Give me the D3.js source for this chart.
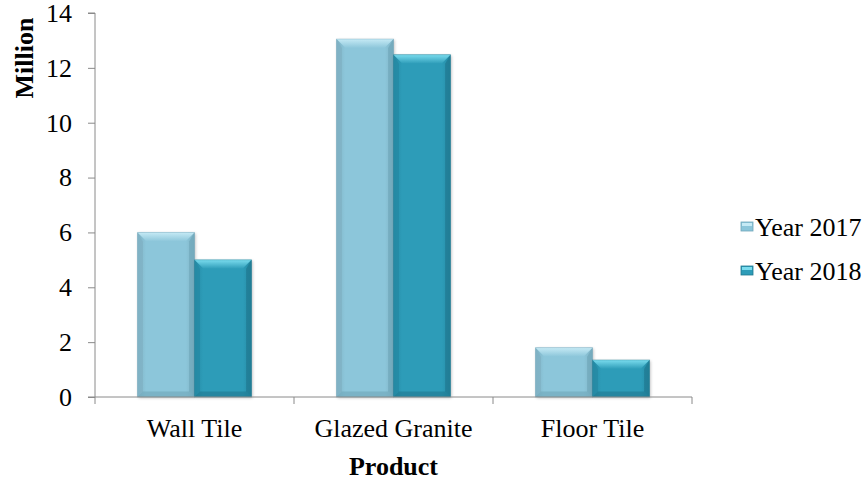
<!DOCTYPE html>
<html>
<head>
<meta charset="utf-8">
<script src="https://cdn.jsdelivr.net/npm/d3@7"></script>
</head>
<body style="margin:0; background:#fff">
<svg></svg>
<script>
// Data
const products = ["Wall Tile", "Glazed Granite", "Floor Tile"];
const years = ["Year 2017", "Year 2018"];
const values2017 = [6.0, 13.05, 1.8];
const values2018 = [5.0, 12.48, 1.35];
const yTicks = [0, 2, 4, 6, 8, 10, 12, 14];

const data = products.map((p, i) => ({product: p, values: [values2017[i], values2018[i]]}));

const svgWidth = 867;
const svgHeight = 482;
const margins = {top: 13, right: 175, bottom: 85, left: 95};
const serif = "Liberation Serif";
const fontSize = 26;

const palette = [
	{base: "#8cc6da", light: "#c6eaf5", dark: "#6fa6b9", edge: "#7fb2c4"},
	{base: "#2d9cb8", light: "#7adcee", dark: "#1f7890", edge: "#258aa4"}
];

const scaleX = d3.scaleBand()
	.domain(products)
	.range([margins.left, svgWidth - margins.right])
	.paddingInner(0)
	.paddingOuter(0);

const scaleSub = d3.scaleBand()
	.domain(years)
	.range([0, scaleX.bandwidth()])
	.paddingOuter(0.745)
	.paddingInner(0);

const scaleY = d3.scaleLinear()
	.domain([0, 14])
	.range([svgHeight - margins.bottom, margins.top]);

const chart = d3.select('svg')
	.attr('width', svgWidth)
	.attr('height', svgHeight)
	.style("display", "block");

// gradients
const defs = chart.append("defs");
palette.forEach((c, i) => {
	const g = defs.append("linearGradient")
		.attr("id", "grad" + i)
		.attr("x1", 0).attr("x2", 1).attr("y1", 0).attr("y2", 0);
	g.append("stop").attr("offset", "0%").attr("stop-color", c.edge);
	g.append("stop").attr("offset", "15%").attr("stop-color", c.base);
	g.append("stop").attr("offset", "85%").attr("stop-color", c.base);
	g.append("stop").attr("offset", "100%").attr("stop-color", c.edge);
	const t = defs.append("linearGradient")
		.attr("id", "top" + i)
		.attr("x1", 0).attr("x2", 0).attr("y1", 0).attr("y2", 1);
	t.append("stop").attr("offset", "0%").attr("stop-color", c.light);
	t.append("stop").attr("offset", "100%").attr("stop-color", c.base);
});
const blur = defs.append("filter").attr("id", "shadow")
	.attr("x", "-10%").attr("y", "-10%").attr("width", "130%").attr("height", "130%");
blur.append("feGaussianBlur").attr("stdDeviation", 1.5);

// Y axis
chart.append("g")
	.attr("transform", `translate(${margins.left}, 0)`)
	.call(d3.axisLeft(scaleY).tickValues(yTicks).tickSize(7).tickPadding(16).tickFormat(d3.format("d")))
	.call(g => g.select(".domain").attr("stroke", "#8a8a8a").attr("d", `M-7,${scaleY(14)}H0V${scaleY(0)}H-7`))
	.call(g => g.selectAll(".tick line").attr("stroke", "#8a8a8a"))
	.call(g => g.selectAll(".tick text").attr("font-size", fontSize).attr("fill", "#000")
		.style("font-family", serif));

// Bars
const bevel = 9;
const groups = chart.append("g").selectAll("g")
	.data(data)
	.join("g")
	.attr("transform", d => `translate(${scaleX(d.product)}, 0)`);

groups.each(function(d) {
	const g = d3.select(this);
	d.values.forEach((v, i) => {
		const x0 = scaleSub(years[i]);
		const w = scaleSub.bandwidth();
		const y0 = scaleY(v);
		const y1 = scaleY(0);
		const c = palette[i];
		// shadow
		g.append("rect")
			.attr("x", x0 + 1).attr("y", y0 + 1)
			.attr("width", w).attr("height", y1 - y0)
			.attr("fill", "#000").attr("opacity", 0.25)
			.attr("filter", "url(#shadow)");
		g.append("rect")
			.attr("x", x0).attr("y", y0)
			.attr("width", w).attr("height", y1 - y0)
			.attr("fill", `url(#grad${i})`);
		const b = Math.min(bevel, (y1 - y0) / 2);
		// top bevel
		g.append("path")
			.attr("d", `M${x0},${y0}H${x0 + w}L${x0 + w - b},${y0 + b}H${x0 + b}Z`)
			.attr("fill", `url(#top${i})`);
		// left bevel
		g.append("path")
			.attr("d", `M${x0},${y0}L${x0 + b * 0.6},${y0 + b}V${y1 - b * 0.6}L${x0},${y1}Z`)
			.attr("fill", c.edge).attr("opacity", 0.8);
		// right bevel
		g.append("path")
			.attr("d", `M${x0 + w},${y0}L${x0 + w - b * 0.6},${y0 + b}V${y1 - b * 0.6}L${x0 + w},${y1}Z`)
			.attr("fill", c.dark).attr("opacity", 0.7);
		// bottom bevel
		g.append("path")
			.attr("d", `M${x0},${y1}L${x0 + b * 0.6},${y1 - b * 0.6}H${x0 + w - b * 0.6}L${x0 + w},${y1}Z`)
			.attr("fill", c.dark).attr("opacity", 0.6);
		g.append("rect")
			.attr("x", x0).attr("y", y0)
			.attr("width", w).attr("height", y1 - y0)
			.attr("fill", "none").attr("stroke", c.dark).attr("stroke-opacity", 0.35);
	});
});

// X axis
chart.append("g")
	.attr("transform", `translate(0, ${scaleY(0)})`)
	.call(d3.axisBottom(scaleX).tickSize(0).tickPadding(22))
	.call(g => g.select(".domain").attr("stroke", "#8a8a8a")
		.attr("d", `M${margins.left},0H${svgWidth - margins.right}V7`))
	.call(g => g.selectAll(".tick text").attr("font-size", fontSize).attr("fill", "#000")
		.style("font-family", serif))
	.call(g => g.selectAll(".sep")
		.data(products)
		.join("line")
		.attr("class", "sep")
		.attr("x1", d => scaleX(d)).attr("x2", d => scaleX(d))
		.attr("y1", 0).attr("y2", 7)
		.attr("stroke", "#8a8a8a"));

// Axis titles
chart.append("text")
	.attr("x", (margins.left + svgWidth - margins.right) / 2)
	.attr("y", 475)
	.attr("text-anchor", "middle")
	.style("font-family", serif)
	.attr("font-size", fontSize)
	.attr("font-weight", "bold")
	.text("Product");

chart.append("text")
	.attr("transform", "translate(33, 58) rotate(-90)")
	.attr("text-anchor", "middle")
	.style("font-family", serif)
	.attr("font-size", fontSize)
	.attr("font-weight", "bold")
	.text("Million");

// Legend
const legend = chart.append("g")
	.attr("transform", "translate(741, 227)");
legend.selectAll("g")
	.data(years)
	.join("g")
	.attr("transform", (d, i) => `translate(0, ${i * 44})`)
	.call(g => g.append("rect")
		.attr("x", 0).attr("y", -5).attr("width", 12).attr("height", 9)
		.attr("fill", (d, i) => palette[i].base)
		.attr("stroke", (d, i) => palette[i].dark).attr("stroke-width", 0.8))
	.call(g => g.append("rect")
		.attr("x", 1).attr("y", -4).attr("width", 10).attr("height", 3)
		.attr("fill", (d, i) => palette[i].light))
	.call(g => g.append("text")
		.attr("x", 14).attr("y", 9)
		.attr("font-size", fontSize)
		.style("font-family", serif)
		.text(d => d));
</script>
</body>
</html>
